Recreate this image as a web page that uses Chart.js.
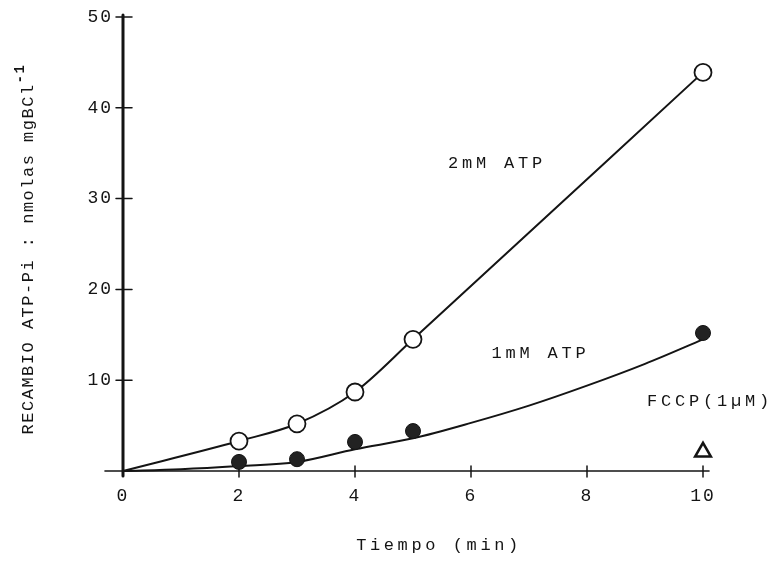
<!DOCTYPE html>
<html>
<head>
<meta charset="utf-8">
<title>Recambio ATP-Pi</title>
<script src="https://cdn.jsdelivr.net/npm/chart.js@4.4.1/dist/chart.umd.min.js"></script>
<style>
  html, body { margin: 0; padding: 0; background: #fff; }
  #wrap { width: 780px; height: 570px; }
</style>
</head>
<body>
<div id="wrap"><canvas id="myChart" width="780" height="570"></canvas></div>
<script>
'use strict';

// measured points, 2mM ATP (open circles)
let times2mM = [0, 2, 3, 4, 5, 10];
let atp2mM = [0, 3.3, 5.2, 8.7, 14.5, 43.9];

// measured points, 1mM ATP (filled circles)
let times1mM = [2, 3, 4, 5, 10];
let atp1mM = [1.0, 1.3, 3.2, 4.4, 15.2];

// smoothed curve drawn through the 1mM points
let curveTimes = [0, 1, 2, 3, 4, 5, 6, 7, 8, 9, 10];
let curve1mM = [0, 0.2, 0.55, 1.0, 2.4, 3.6, 5.3, 7.2, 9.4, 11.8, 14.5];

// uncoupler control (triangle)
let fccpTimes = [10];
let fccpValues = [2.1];

// axes
let xTicks = [0, 2, 4, 6, 8, 10];
let yTicks = [0, 10, 20, 30, 40, 50];

let seriesLabels = ['2mM ATP', '1mM ATP', 'FCCP(1\u00b5M)'];
let xTitle = 'Tiempo (min)';
let yTitle = 'RECAMBIO ATP-Pi : nmolas mgBCl';
let yTitleSup = '-1';

const ink = '#141414';
const mono = '"Liberation Mono", "DejaVu Sans Mono", monospace';

function toPoints(xs, ys) {
  return xs.map((x, i) => ({ x: x, y: ys[i] }));
}

function line(ctx, x1, y1, x2, y2) {
  ctx.beginPath();
  ctx.moveTo(x1, y1);
  ctx.lineTo(x2, y2);
  ctx.stroke();
}

// axes drawn by hand: heavy y axis, thin x axis, ticks crossing the line
const handAxes = {
  id: 'handAxes',
  beforeDraw(chart) {
    chart.ctx.letterSpacing = '2px';
  },
  beforeDatasetsDraw(chart) {
    const { ctx, scales: { x, y } } = chart;
    const x0 = x.getPixelForValue(xTicks[0]);
    const y0 = y.getPixelForValue(yTicks[0]);
    const yTop = y.getPixelForValue(yTicks[yTicks.length - 1]);
    const xEnd = x.getPixelForValue(xTicks[xTicks.length - 1]);
    ctx.save();
    ctx.strokeStyle = ink;
    ctx.lineCap = 'round';
    ctx.lineWidth = 3;
    line(ctx, x0, yTop - 2, x0, y0 + 5);
    ctx.lineWidth = 1.6;
    line(ctx, x0 - 18, y0, xEnd + 6, y0);
    ctx.lineWidth = 1.5;
    xTicks.slice(1).forEach(v => {
      const px = x.getPixelForValue(v);
      line(ctx, px, y0 - 5, px, y0 + 6);
    });
    yTicks.slice(1).forEach(v => {
      const py = y.getPixelForValue(v);
      line(ctx, x0 - 7, py, x0 + 9, py);
    });
    ctx.restore();
  },
  afterDraw(chart) {
    const { ctx, chartArea, scales: { x, y } } = chart;
    ctx.save();
    ctx.fillStyle = ink;
    ctx.textAlign = 'center';
    ctx.textBaseline = 'middle';

    // curve labels
    ctx.font = '17px ' + mono;
    ctx.letterSpacing = '3.8px';
    ctx.fillText(seriesLabels[0], x.getPixelForValue(6.45), y.getPixelForValue(33.9));
    ctx.fillText(seriesLabels[1], x.getPixelForValue(7.2), y.getPixelForValue(12.9));
    ctx.fillText(seriesLabels[2], x.getPixelForValue(10.12), y.getPixelForValue(7.6));

    // x title
    ctx.letterSpacing = '3.6px';
    ctx.fillText(xTitle, (chartArea.left + chartArea.right) / 2 + 26, 545);

    // y title, rotated, with superscript
    ctx.translate(28, (chartArea.top + chartArea.bottom) / 2 + 5);
    ctx.rotate(-Math.PI / 2);
    ctx.font = '17px ' + mono;
    ctx.letterSpacing = '1.5px';
    const w = ctx.measureText(yTitle).width;
    ctx.font = 'bold 14px ' + mono;
    const ws = ctx.measureText(yTitleSup).width;
    const start = -(w + ws) / 2;
    ctx.textAlign = 'left';
    ctx.font = '17px ' + mono;
    ctx.fillText(yTitle, start, 0);
    ctx.font = 'bold 14px ' + mono;
    ctx.fillText(yTitleSup, start + w, -8);
    ctx.restore();
  }
};

let ctx = document.getElementById('myChart').getContext('2d');
let myChart = new Chart(ctx, {
  type: 'scatter',
  data: {
    datasets: [
      {
        label: seriesLabels[2],
        data: toPoints(fccpTimes, fccpValues),
        pointStyle: 'triangle',
        pointRadius: 9,
        pointBackgroundColor: '#fff',
        pointBorderColor: ink,
        pointBorderWidth: 2.6,
        showLine: false,
        clip: false
      },
      {
        label: seriesLabels[1],
        data: toPoints(times1mM, atp1mM),
        pointRadius: 7.5,
        pointBackgroundColor: '#222',
        pointBorderColor: ink,
        pointBorderWidth: 1,
        showLine: false,
        clip: false
      },
      {
        label: seriesLabels[0],
        data: toPoints(times2mM, atp2mM),
        pointRadius: times2mM.map(t => (t === 0 ? 0 : 8.5)),
        pointBackgroundColor: '#fff',
        pointBorderColor: ink,
        pointBorderWidth: 1.8,
        borderColor: ink,
        borderWidth: 2,
        showLine: true,
        cubicInterpolationMode: 'monotone',
        clip: false
      },
      {
        label: 'curve 1mM',
        data: toPoints(curveTimes, curve1mM),
        pointRadius: 0,
        borderColor: ink,
        borderWidth: 2,
        showLine: true,
        cubicInterpolationMode: 'monotone',
        clip: false
      }
    ]
  },
  options: {
    responsive: false,
    animation: false,
    devicePixelRatio: 1,
    layout: { padding: { top: 17, right: 77, left: 0, bottom: 0 } },
    plugins: {
      legend: { display: false },
      tooltip: { enabled: false }
    },
    scales: {
      x: {
        type: 'linear',
        min: xTicks[0],
        max: xTicks[xTicks.length - 1],
        afterFit: s => { s.height = 99; },
        afterBuildTicks: s => { s.ticks = xTicks.map(v => ({ value: v })); },
        grid: { display: false },
        border: { display: false },
        ticks: {
          color: ink,
          padding: 6,
          maxRotation: 0,
          font: { family: mono, size: 18 }
        }
      },
      y: {
        type: 'linear',
        min: yTicks[0],
        max: yTicks[yTicks.length - 1],
        afterFit: s => { s.width = 123; },
        afterBuildTicks: s => { s.ticks = yTicks.map(v => ({ value: v })); },
        grid: { display: false },
        border: { display: false },
        ticks: {
          color: ink,
          padding: 2,
          font: { family: mono, size: 18 },
          callback: v => (v === 0 ? '' : v)
        }
      }
    }
  },
  plugins: [handAxes]
});
</script>
</body>
</html>
